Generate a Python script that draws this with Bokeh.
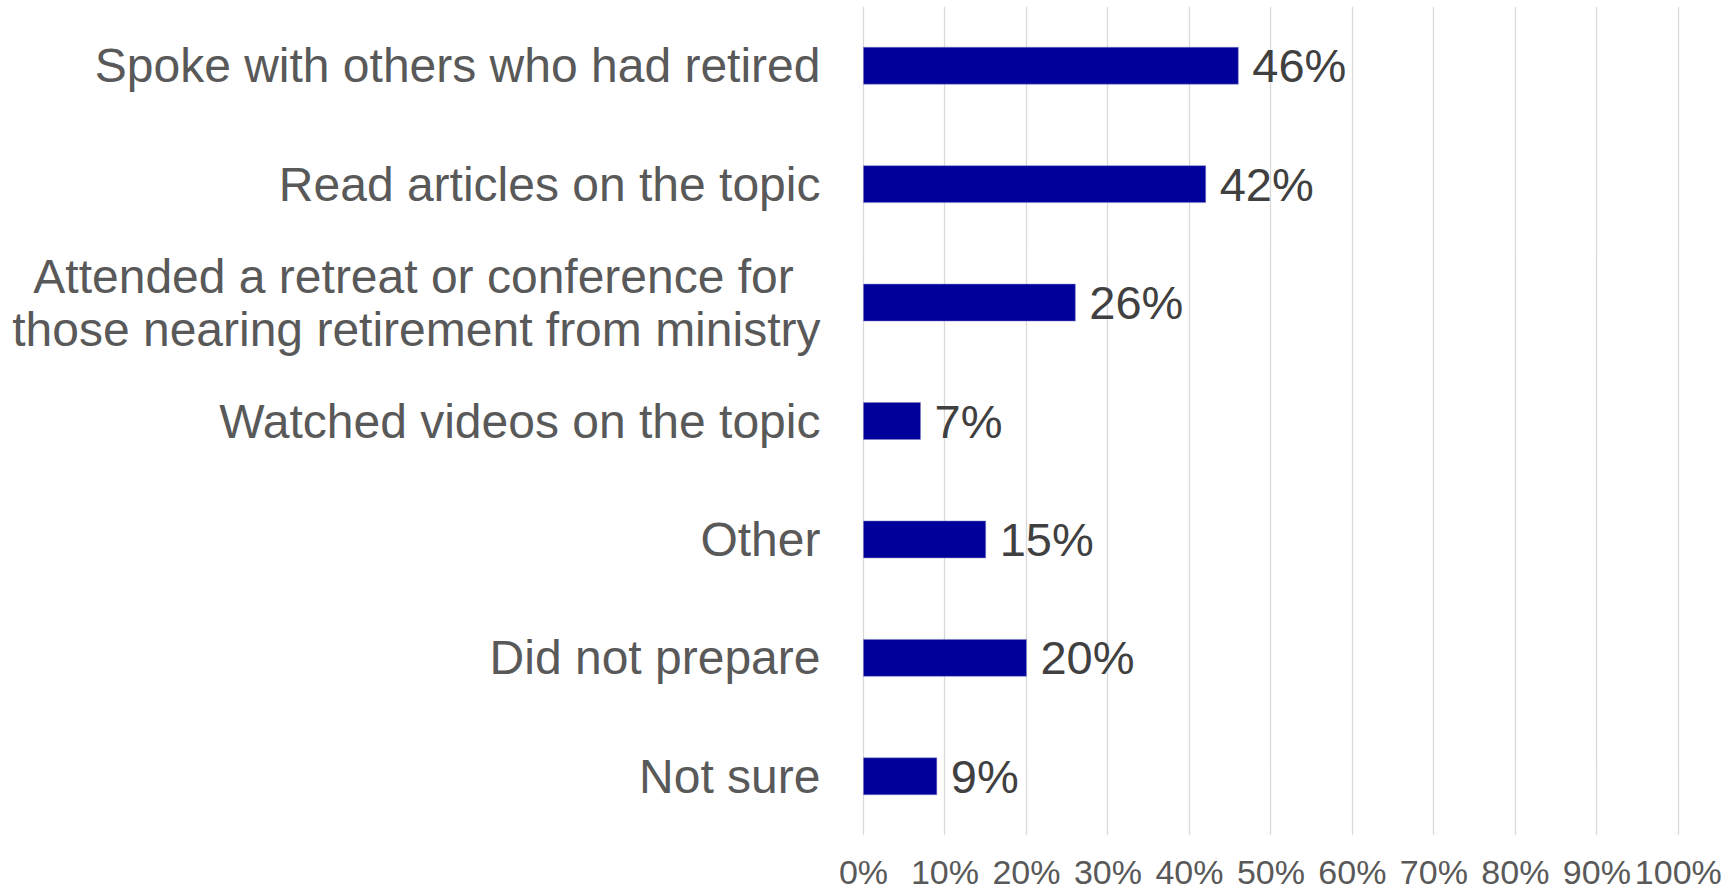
from bokeh.plotting import figure
from bokeh.models import FactorRange, FixedTicker, PrintfTickFormatter, ColumnDataSource
from bokeh.core.properties import value
from bokeh.embed import file_html
from bokeh.resources import INLINE

categories = [
    "Spoke with others who had retired",
    "Read articles on the topic",
    "Attended a retreat or conference for  \nthose nearing retirement from ministry",
    "Watched videos on the topic",
    "Other",
    "Did not prepare",
    "Not sure",
]
values = [46, 42, 26, 7, 15, 20, 9]
tick_values = [0, 10, 20, 30, 40, 50, 60, 70, 80, 90, 100]

FONT = "Liberation Sans"

src = ColumnDataSource(dict(
    cat=categories,
    val=values,
    zero=[0] * len(values),
    lbl=[f"{v}%" for v in values],
))

p = figure(
    width=1730, height=893,
    x_range=(-105.9, 106.4),
    y_range=FactorRange(*list(reversed(categories))),
    output_backend="svg", toolbar_location=None,
    y_axis_location=None,
    min_border_left=0, min_border_right=0, min_border_top=6, min_border_bottom=40,
)
p.outline_line_color = None
p.ygrid.grid_line_color = None
p.xgrid.grid_line_color = "#D9D9D9"
p.xgrid.grid_line_width = 1.3

ax = p.xaxis[0]
ax.ticker = FixedTicker(ticks=tick_values)
ax.formatter = PrintfTickFormatter(format="%d%%")
ax.axis_line_color = None
ax.major_tick_line_color = None
ax.minor_tick_line_color = None
ax.major_tick_out = 0
ax.major_tick_in = 0
ax.major_label_text_font = FONT
ax.major_label_text_font_size = "34px"
ax.major_label_text_color = "#595959"
ax.major_label_standoff = 17

p.hbar(y="cat", left="zero", right="val", height=0.312, source=src,
       fill_color="#00009A", line_color="#8080C8", line_width=0.5)

p.text(x="val", y="cat", text="lbl", source=src, x_offset=14,
       text_align="left", text_baseline="middle",
       text_font=value(FONT), text_font_size="47px", text_color="#404040")

p.text(x="zero", y="cat", text="cat", source=src, x_offset=-43,
       text_align="right", text_baseline="middle",
       text_font=value(FONT), text_font_size="48px", text_color="#595959",
       text_line_height=1.0)

open("out.html", "w").write(file_html(p, INLINE))
